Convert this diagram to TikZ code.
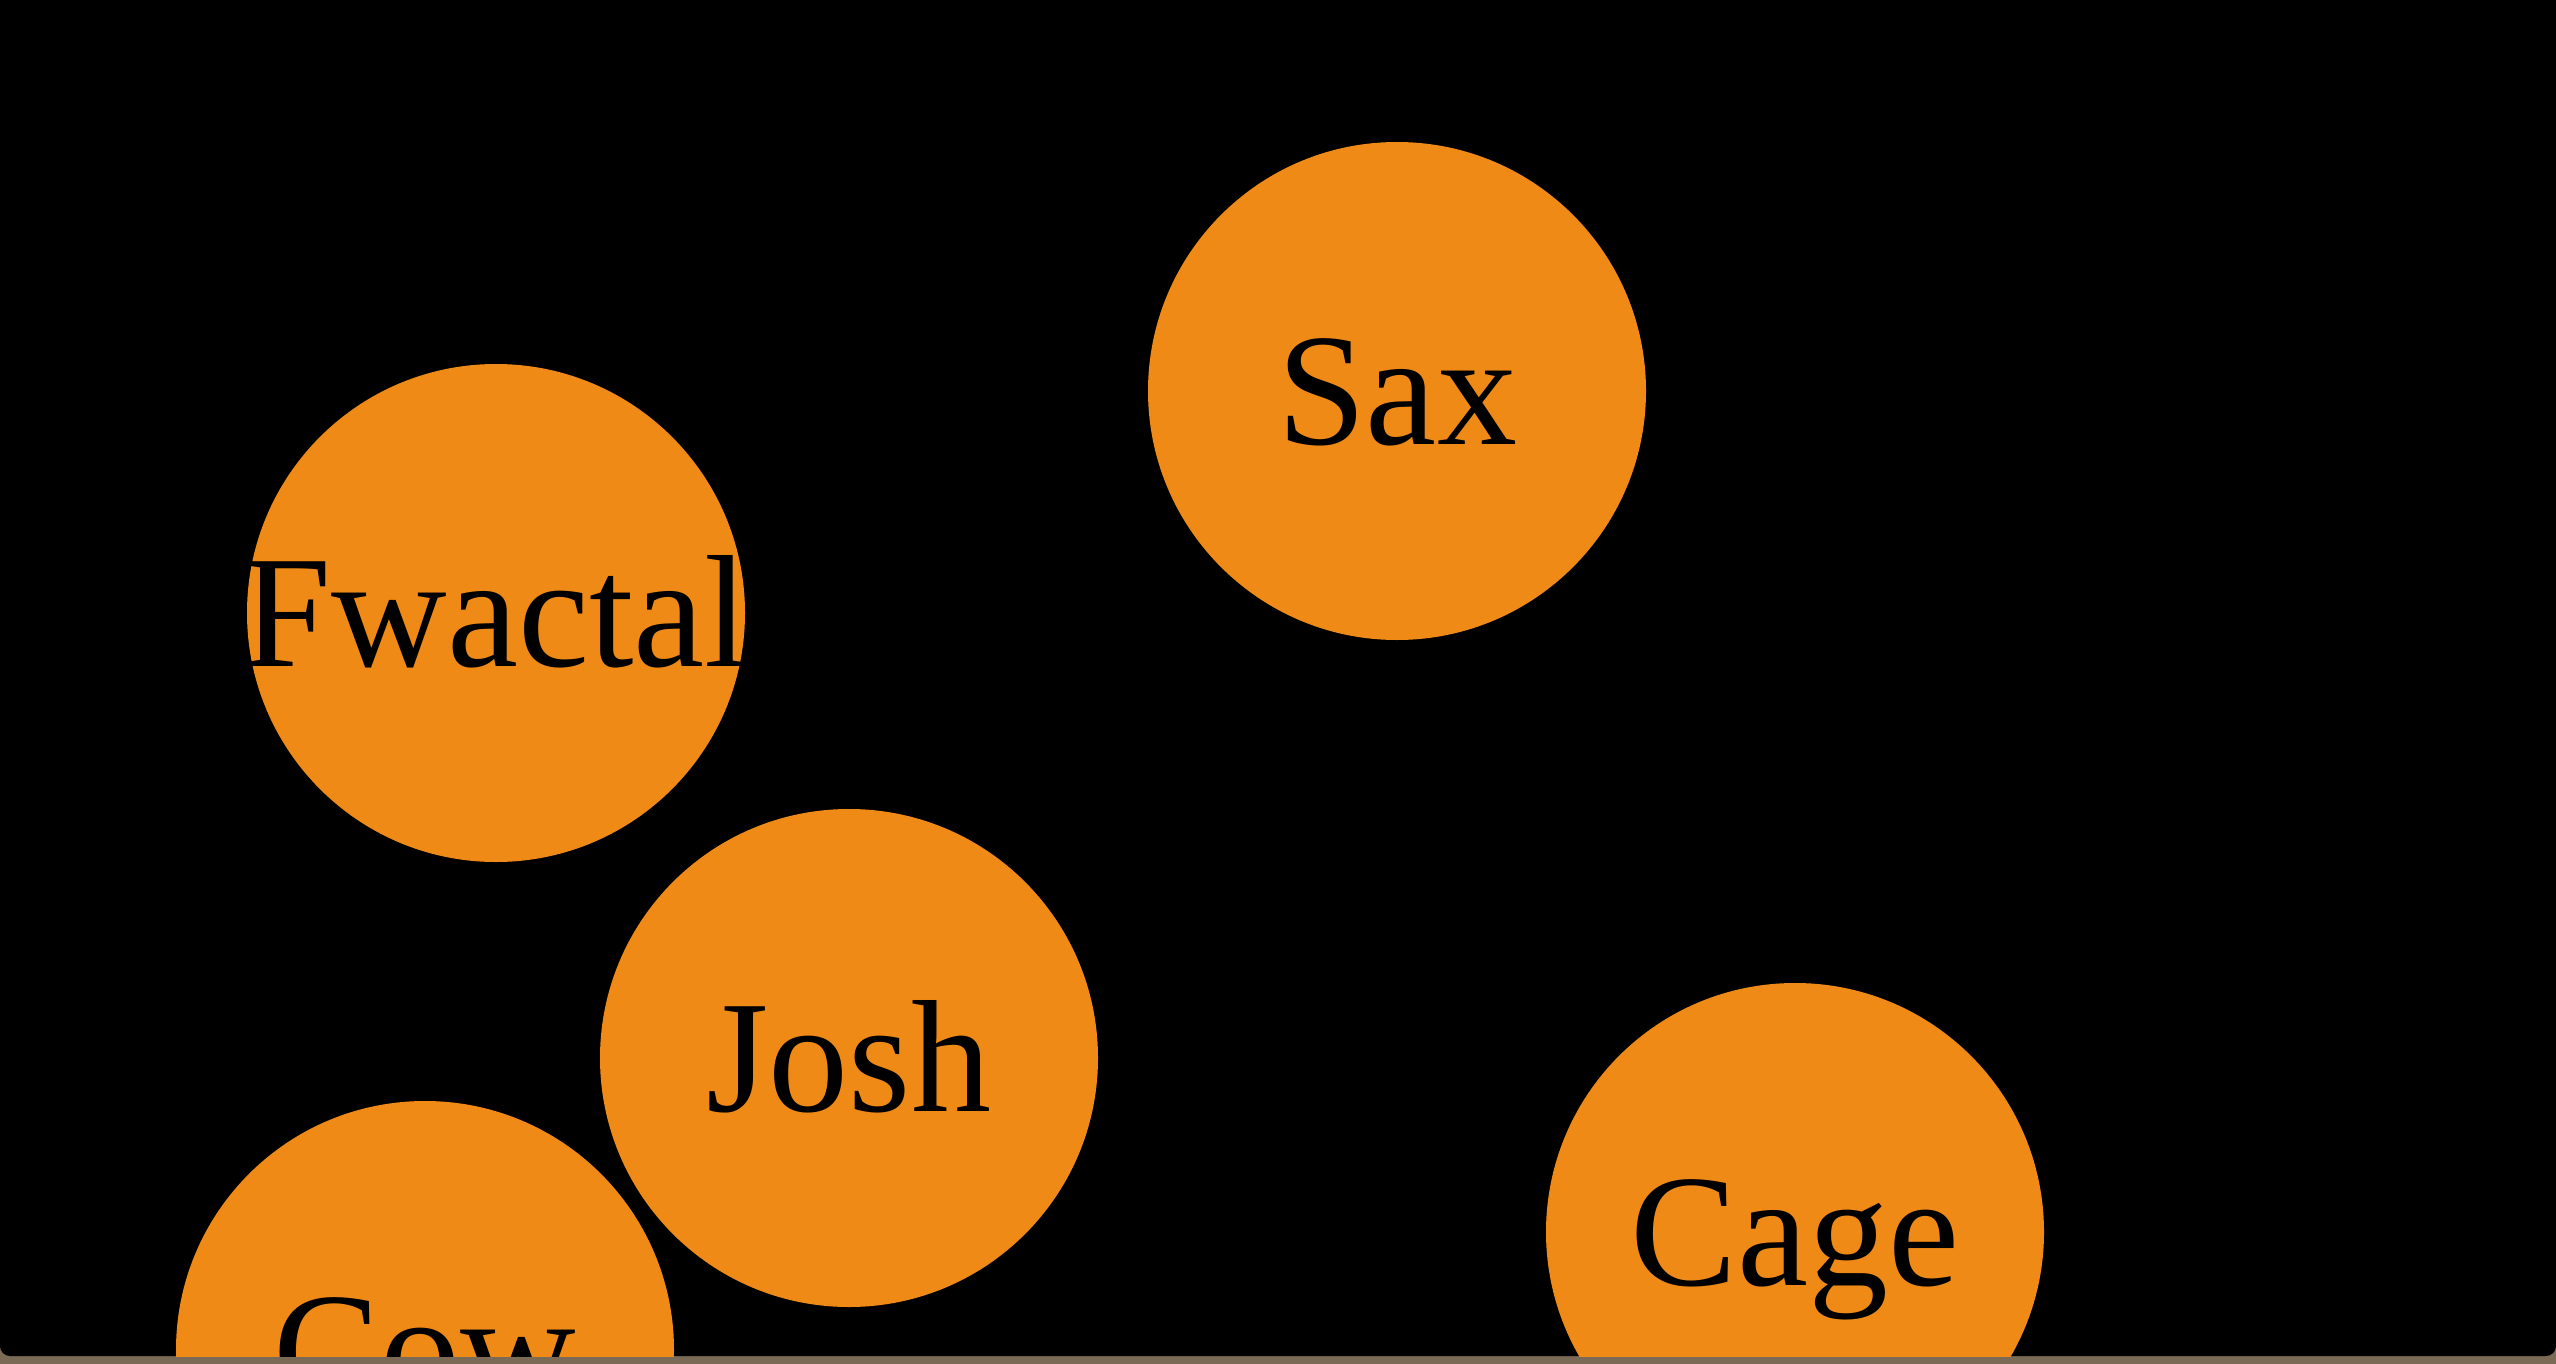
\documentclass[tikz,border=0pt]{standalone}
\usepackage{fontspec}
\setmainfont{Liberation Serif}
\definecolor{ballorange}{RGB}{240,138,22}
\definecolor{strip}{RGB}{122,106,86}
\tikzset{
  ball/.style={circle, fill=ballorange, draw=none, minimum size=498pt, inner sep=0pt},
  lbl/.style={text=black, inner sep=0pt, text height=106pt, text depth=0pt,
              font=\fontsize{160}{160}\selectfont}
}
\begin{document}
\begin{tikzpicture}[x=1pt,y=-1pt]
\useasboundingbox (0,0) rectangle (2556,1364);
\fill[strip] (0,0) rectangle (2556,1364);
\fill[black] (0,0) -- (2556,0) [rounded corners=10pt] -- (2556,1356) -- (0,1356) [sharp corners] -- cycle;
\begin{scope}
\clip (0,0) rectangle (2556,1356);
\node[ball] (sax) at (1397,391) {};
\node[ball] (fwactal) at (496,613) {};
\node[ball] (josh) at (849,1058) {};
\node[ball] (cage) at (1795,1232) {};
\node[ball] (cow) at (425,1350) {};
\node[lbl] (saxt) at (sax.center) {Sax};
\node[lbl] (fwactalt) at (fwactal.center) {Fwactal};
\node[lbl] (josht) at (josh.center) {Josh};
\node[lbl] (caget) at (cage.center) {Cage};
\node[lbl] (cowt) at (cow.center) {Cow};
\end{scope}
\end{tikzpicture}
\end{document}
